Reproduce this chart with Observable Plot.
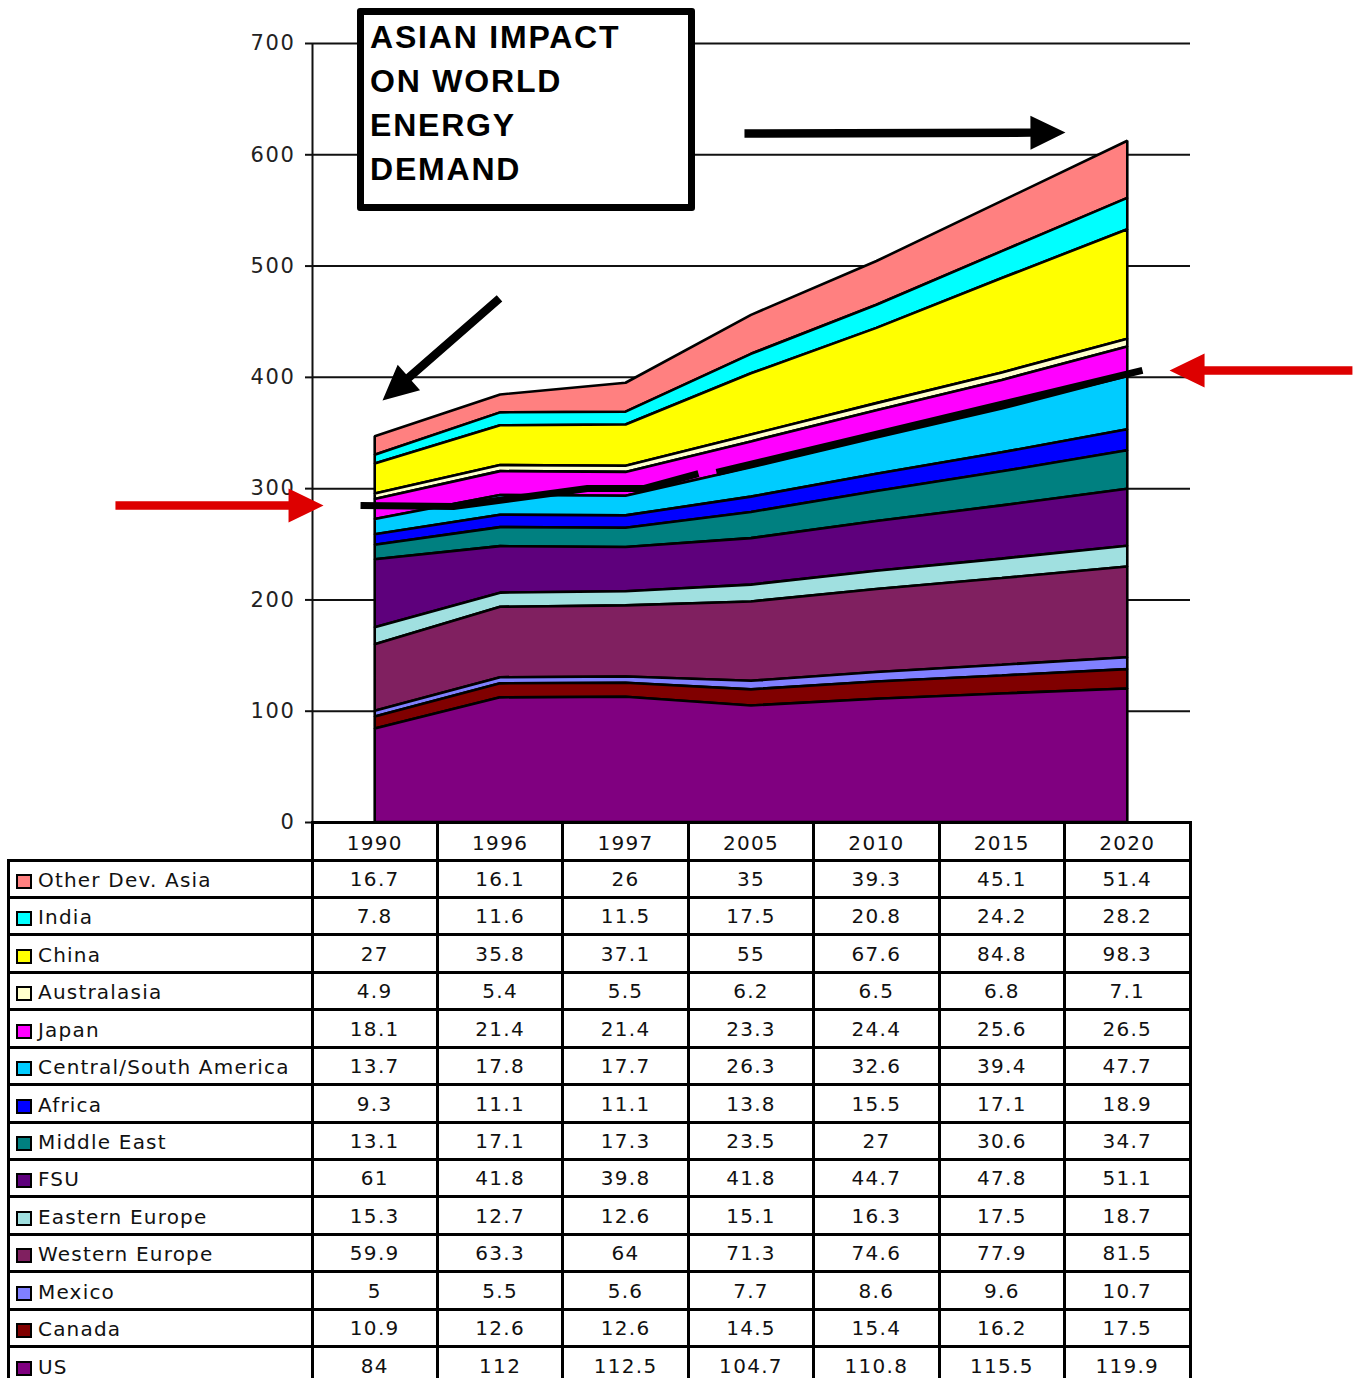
<!DOCTYPE html>
<html><head><meta charset="utf-8">
<script src="https://cdn.jsdelivr.net/npm/d3@7"></script>
<script src="https://cdn.jsdelivr.net/npm/@observablehq/plot@0.6"></script>
<style>
body{margin:0;background:#fff;}
#wrap{position:relative;width:1357px;height:1378px;overflow:hidden;background:#fff;font-family:"DejaVu Sans",sans-serif;}
#chart{position:absolute;left:0;top:0;}
#chart svg text{letter-spacing:1.6px;}
.title{position:absolute;left:357px;top:8px;width:338px;height:203px;box-sizing:border-box;border:7px solid #000;border-radius:3px;background:#fff;font-family:"Liberation Sans",Arial,sans-serif;font-weight:bold;font-size:32px;line-height:44px;padding:0 0 0 6px;letter-spacing:1.8px;color:#000;}
.cell{position:absolute;text-align:center;font-size:20px;letter-spacing:1.3px;color:#111;white-space:nowrap;}
.lab{position:absolute;font-size:20px;letter-spacing:1.2px;color:#111;white-space:nowrap;}
.sw{position:absolute;box-sizing:border-box;border:2px solid #000;}
.ln{position:absolute;background:#000;}
</style></head>
<body><div id="wrap"><div id="chart"></div><div class="title">ASIAN IMPACT<br>ON WORLD<br>ENERGY<br>DEMAND</div><div id="table"></div></div>
<script>
// ---- data ----
const years = ["1990","1996","1997","2005","2010","2015","2020"];
const regions = ["Other Dev. Asia","India","China","Australasia","Japan","Central/South America","Africa","Middle East","FSU","Eastern Europe","Western Europe","Mexico","Canada","US"];
const regionColors = ["#FF8080","#00FFFF","#FFFF00","#FFFFCC","#FF00FF","#00CCFF","#0000FF","#008080","#5E007C","#A0E0E0","#802060","#8080FF","#800000","#800080"];
const otherDevAsia = [16.7,16.1,26,35,39.3,45.1,51.4];
const india = [7.8,11.6,11.5,17.5,20.8,24.2,28.2];
const china = [27,35.8,37.1,55,67.6,84.8,98.3];
const australasia = [4.9,5.4,5.5,6.2,6.5,6.8,7.1];
const japan = [18.1,21.4,21.4,23.3,24.4,25.6,26.5];
const centralSouthAmerica = [13.7,17.8,17.7,26.3,32.6,39.4,47.7];
const africa = [9.3,11.1,11.1,13.8,15.5,17.1,18.9];
const middleEast = [13.1,17.1,17.3,23.5,27,30.6,34.7];
const fsu = [61,41.8,39.8,41.8,44.7,47.8,51.1];
const easternEurope = [15.3,12.7,12.6,15.1,16.3,17.5,18.7];
const westernEurope = [59.9,63.3,64,71.3,74.6,77.9,81.5];
const mexico = [5,5.5,5.6,7.7,8.6,9.6,10.7];
const canada = [10.9,12.6,12.6,14.5,15.4,16.2,17.5];
const us = [84,112,112.5,104.7,110.8,115.5,119.9];
const yTicks = [0,100,200,300,400,500,600,700];

// annotation geometry in data units (x = year index, y = value)
const trendLine1 = [[-0.117,284.8],[0.624,284.0],[1.692,300.1],[2.139,300.1],[2.577,313.6]];
const trendLine2 = [[2.721,314.5],[6.117,406.2]];
const arrowSpecs = [
  {x1:0.991, y1:470.9, x2:0.058, y2:379.2, color:"#000000"},
  {x1:2.944, y1:619.1, x2:5.503, y2:620.0, color:"#000000"},
  {x1:-2.071, y1:284.8, x2:-0.412, y2:284.8, color:"#DD0000"},
  {x1:7.791, y1:406.2, x2:6.333, y2:406.2, color:"#DD0000"}
];

const series = [otherDevAsia, india, china, australasia, japan, centralSouthAmerica, africa, middleEast, fsu, easternEurope, westernEurope, mexico, canada, us];
const long = [];
regions.forEach((r, k) => series[k].forEach((v, i) => long.push({region: r, i, year: years[i], value: v})));
const stackOrder = regions.slice().reverse();

// ---- layout ----
const W = 1357, H = 830, mL = 312, mR = 167, mT = 43, mB = 8;
const xDom = [-0.5, 6.5], yDom = [0, 700];
const px = i => mL + (i - xDom[0]) / (xDom[1] - xDom[0]) * (W - mL - mR);
const py = v => (H - mB) - (v - yDom[0]) / (yDom[1] - yDom[0]) * (H - mB - mT);
const ix = p => xDom[0] + (p - mL) / (W - mL - mR) * (xDom[1] - xDom[0]);
const iy = p => yDom[0] + ((H - mB) - p) / (H - mB - mT) * (yDom[1] - yDom[0]);

function arrowPoly(a, sw = 4.2, hl = 35, hw = 17) {
  const x0 = px(a.x1), y0 = py(a.y1), x1 = px(a.x2), y1 = py(a.y2);
  const L = Math.hypot(x1 - x0, y1 - y0), ux = (x1 - x0) / L, uy = (y1 - y0) / L;
  const nx = -uy, ny = ux;
  const bx = x1 - ux * hl, by = y1 - uy * hl;
  const pts = [
    [x0 + nx * sw, y0 + ny * sw], [bx + nx * sw, by + ny * sw], [bx + nx * hw, by + ny * hw],
    [x1, y1], [bx - nx * hw, by - ny * hw], [bx - nx * sw, by - ny * sw], [x0 - nx * sw, y0 - ny * sw]
  ];
  return pts.map(([a1, b1]) => [ix(a1), iy(b1)]);
}

const marks = [
  Plot.ruleY(yTicks, {x1: -0.5, x2: 6.5, stroke: "#111", strokeWidth: 2}),
  Plot.areaY(long, Plot.stackY({x: "i", y: "value", z: "region", fill: "region", order: stackOrder, stroke: "#000", strokeWidth: 2.6, strokeLinejoin: "miter"})),
  Plot.ruleX([-0.5], {y1: 0, y2: 700, stroke: "#111", strokeWidth: 2}),
  Plot.axisY({ticks: yTicks, tickSize: 7, tickPadding: 10, tickFormat: d => String(d), stroke: "#111", strokeWidth: 2, fill: "#222", fontSize: 21, label: null}),
  Plot.line(trendLine1, {x: d => d[0], y: d => d[1], stroke: "#000", strokeWidth: 7, strokeLinecap: "butt", strokeLinejoin: "miter"}),
  Plot.line(trendLine2, {x: d => d[0], y: d => d[1], stroke: "#000", strokeWidth: 7, strokeLinecap: "butt"})
];
arrowSpecs.forEach(a => marks.push(Plot.line(arrowPoly(a), {x: d => d[0], y: d => d[1], fill: a.color, stroke: "none"})));

const chart = Plot.plot({
  width: W, height: H,
  marginLeft: mL, marginRight: mR, marginTop: mT, marginBottom: mB,
  x: {type: "linear", domain: xDom, axis: null},
  y: {domain: yDom, axis: null},
  color: {domain: regions, range: regionColors},
  style: {fontFamily: "DejaVu Sans, sans-serif", fontSize: "21px", color: "#111", background: "transparent", overflow: "visible"},
  marks
});
document.getElementById("chart").appendChild(chart);

// ---- data table ----
const tbl = d3.select("#table");
const colW = (W - mL - mR) / 7, rowH = 37.43, top0 = 860, headTop = 822, lw = 3, tableLeft = 8, tableRight = W - mR, bottom = 1380;
for (let r = 0; r <= regions.length; r++) {
  const y = top0 + r * rowH;
  tbl.append("div").attr("class", "ln").style("left", (tableLeft - lw / 2) + "px").style("top", (y - lw / 2) + "px").style("width", (tableRight - tableLeft + lw) + "px").style("height", lw + "px");
}
tbl.append("div").attr("class", "ln").style("left", (mL - lw / 2) + "px").style("top", (headTop - lw / 2) + "px").style("width", (tableRight - mL + lw) + "px").style("height", lw + "px");
tbl.append("div").attr("class", "ln").style("left", (tableLeft - lw / 2) + "px").style("top", (top0 - lw / 2) + "px").style("width", lw + "px").style("height", (bottom - top0) + "px");
for (let k = 0; k <= years.length; k++) {
  const x = mL + k * colW;
  tbl.append("div").attr("class", "ln").style("left", (x - lw / 2) + "px").style("top", (headTop - lw / 2) + "px").style("width", lw + "px").style("height", (bottom - headTop) + "px");
}
years.forEach((yr, k) => {
  tbl.append("div").attr("class", "cell").style("left", (mL + k * colW) + "px").style("top", (headTop + 2) + "px").style("width", colW + "px").style("height", (top0 - headTop) + "px").style("line-height", (top0 - headTop) + "px").text(yr);
});
regions.forEach((r, ri) => {
  const t = top0 + ri * rowH;
  tbl.append("div").attr("class", "sw").style("left", "16px").style("top", (t + 14) + "px").style("width", "16px").style("height", "15px").style("background", regionColors[ri]);
  tbl.append("div").attr("class", "lab").style("left", "38px").style("top", (t + 2) + "px").style("height", rowH + "px").style("line-height", rowH + "px").text(r);
  series[ri].forEach((v, k) => {
    tbl.append("div").attr("class", "cell").style("left", (mL + k * colW) + "px").style("top", (t + 1) + "px").style("width", colW + "px").style("height", rowH + "px").style("line-height", rowH + "px").text(String(v));
  });
});
</script>
</body></html>
